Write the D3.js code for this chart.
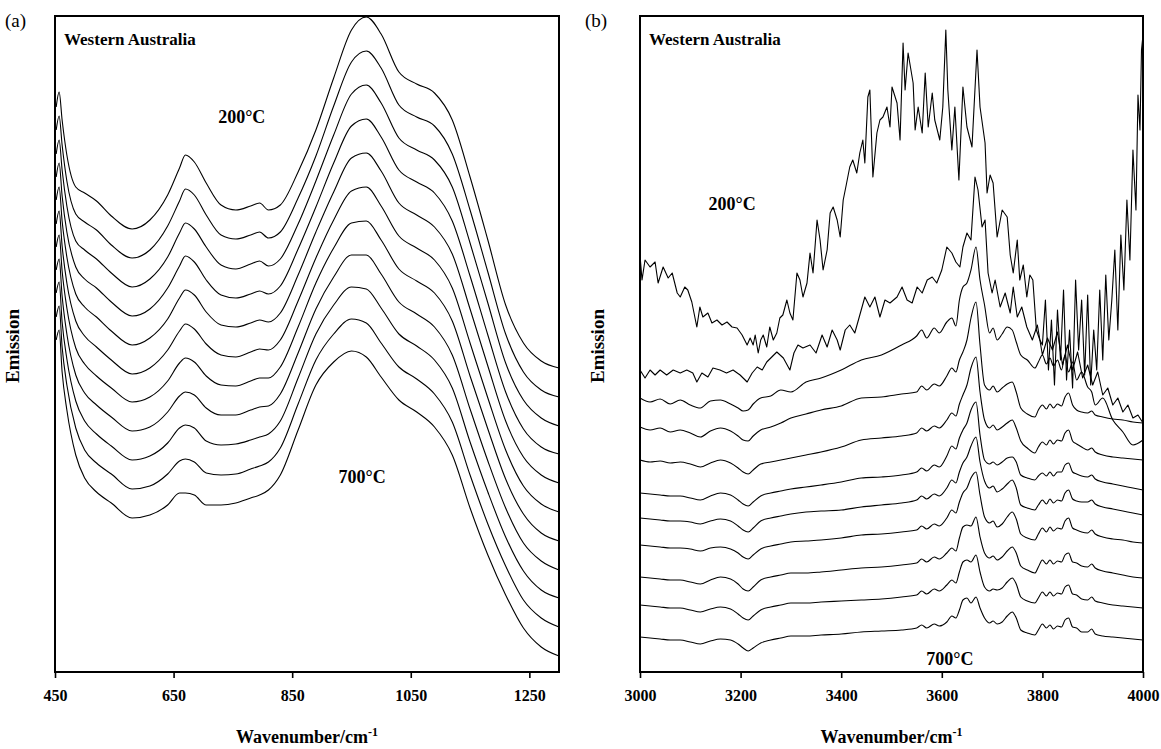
<!DOCTYPE html>
<html>
<head>
<meta charset="utf-8">
<script src="https://cdn.jsdelivr.net/npm/d3@7"></script>
<style>
  body { margin: 0; background: #fff; }
  svg text { font-family: "Liberation Serif", "Times New Roman", serif; fill: #000; }
</style>
</head>
<body>
<svg id="chart" width="1161" height="749"></svg>
<script>
// FTIR emission spectra, Western Australia sample, heated 200 -> 700 C
// values are stacked emission in arbitrary units (traces offset vertically)

// ---- panel (a): 450-1300 cm-1 ----
var waveA = [452, 457, 462, 470, 485, 500, 520, 545, 580, 610, 640, 660, 670, 685, 705, 730, 755, 780, 795, 810,
             830, 860, 890, 920, 950, 975, 1000, 1030, 1060, 1090, 1120, 1150, 1180, 1210, 1240, 1270, 1300];
var a200 = [565, 580, 552, 517, 485, 479, 471, 456, 443, 452, 477, 504, 517, 510, 489, 467, 462, 466, 469, 462, 467, 500, 542, 594, 642, 655, 638, 600, 588, 579, 552, 495, 432, 367, 329, 311, 304];
var a250 = [542, 556, 527, 491, 458, 450, 442, 427, 414, 422, 446, 471, 483, 477, 457, 437, 433, 437, 440, 434, 440, 474, 516, 566, 610, 621, 604, 567, 555, 546, 518, 462, 400, 338, 300, 282, 275];
var a300 = [518, 532, 502, 466, 431, 422, 413, 399, 385, 393, 415, 439, 449, 443, 425, 407, 403, 408, 411, 406, 413, 448, 491, 537, 578, 587, 569, 534, 522, 512, 485, 429, 369, 309, 272, 254, 246];
var a350 = [495, 509, 476, 440, 405, 393, 384, 370, 356, 363, 384, 406, 416, 410, 392, 377, 374, 378, 381, 378, 386, 423, 465, 509, 546, 553, 535, 502, 490, 479, 451, 396, 337, 280, 243, 225, 218];
var a400 = [472, 485, 451, 415, 378, 365, 355, 341, 327, 334, 353, 374, 382, 377, 360, 347, 345, 349, 352, 350, 359, 397, 440, 480, 514, 519, 501, 469, 457, 445, 418, 363, 306, 251, 215, 197, 189];
var a450 = [448, 461, 426, 389, 351, 336, 325, 312, 298, 304, 322, 341, 348, 343, 328, 317, 315, 320, 323, 322, 332, 371, 414, 452, 481, 485, 466, 436, 424, 412, 384, 329, 274, 222, 186, 168, 160];
var a500 = [425, 437, 401, 364, 324, 308, 296, 284, 270, 275, 291, 309, 314, 310, 296, 287, 286, 291, 294, 294, 305, 345, 389, 424, 449, 451, 432, 403, 391, 379, 351, 296, 243, 193, 158, 139, 131];
var a550 = [402, 413, 376, 338, 297, 279, 267, 255, 241, 245, 260, 276, 280, 277, 264, 257, 257, 262, 265, 266, 278, 319, 363, 395, 417, 417, 398, 370, 358, 345, 317, 263, 211, 164, 129, 111, 102];
var a600 = [379, 390, 350, 313, 271, 251, 238, 226, 212, 216, 229, 244, 247, 244, 231, 227, 228, 232, 235, 238, 251, 294, 338, 367, 385, 383, 364, 338, 326, 312, 284, 230, 180, 135, 101, 82, 74];
var a650 = [355, 366, 325, 287, 244, 222, 209, 198, 183, 186, 198, 211, 213, 210, 199, 197, 198, 203, 206, 210, 224, 268, 312, 338, 353, 349, 329, 305, 293, 278, 250, 197, 148, 106, 72, 54, 45];
var a700 = [332, 342, 300, 262, 217, 194, 180, 169, 154, 157, 167, 179, 179, 177, 167, 167, 169, 174, 177, 182, 197, 242, 287, 310, 321, 315, 295, 272, 260, 245, 217, 164, 117, 77, 44, 25, 16];
var ticksA = [450, 650, 850, 1050, 1250];

// ---- panel (b): 3000-4000 cm-1 ----
// the 200 and 250 C traces are very noisy, so they get their own denser grids
var waveB200 = [3000, 3004, 3010, 3020, 3030, 3036, 3046, 3056, 3064, 3074, 3080, 3089, 3095, 3103, 3113, 3119, 3125, 3135, 3143, 3153,
                3163, 3173, 3183, 3193, 3203, 3213, 3219, 3225, 3229, 3235, 3240, 3245, 3252, 3258, 3265, 3272, 3278, 3284, 3292, 3298,
                3304, 3312, 3318, 3324, 3332, 3338, 3344, 3352, 3358, 3364, 3372, 3378, 3384, 3392, 3398, 3404, 3410, 3417, 3423, 3431,
                3437, 3443, 3447, 3453, 3457, 3463, 3471, 3477, 3483, 3491, 3497, 3501, 3511, 3517, 3523, 3527, 3533, 3543, 3547, 3553,
                3561, 3567, 3573, 3581, 3586, 3596, 3602, 3608, 3612, 3620, 3626, 3634, 3642, 3650, 3660, 3670, 3676, 3686, 3690, 3696,
                3702, 3710, 3720, 3730, 3736, 3742, 3750, 3755, 3762, 3769, 3775, 3781, 3788, 3795, 3800, 3806, 3812, 3818, 3824, 3830,
                3836, 3842, 3848, 3854, 3860, 3866, 3872, 3878, 3884, 3890, 3896, 3902, 3908, 3914, 3920, 3926, 3932, 3938, 3944, 3950,
                3956, 3962, 3968, 3974, 3980, 3986, 3990, 3994, 3997, 4000];
var b200 = [417, 392, 412, 405, 410, 389, 405, 394, 399, 379, 375, 385, 382, 370, 345, 365, 355, 359, 349, 352,
            347, 350, 345, 344, 337, 327, 334, 327, 337, 319, 332, 337, 325, 345, 332, 339, 354, 357, 372, 359,
            352, 399, 392, 375, 389, 419, 399, 452, 432, 402, 422, 459, 465, 452, 435, 472, 487, 505, 512, 499,
            519, 532, 509, 575, 582, 495, 539, 552, 555, 565, 545, 585, 569, 532, 629, 582, 619, 589, 542, 565,
            539, 599, 545, 579, 552, 532, 565, 642, 582, 522, 565, 492, 585, 545, 525, 622, 565, 529, 479, 497,
            489, 435, 462, 455, 417, 399, 432, 392, 407, 375, 397, 392, 342, 332, 327, 372, 302, 352, 287, 362,
            312, 382, 292, 342, 284, 392, 322, 372, 297, 377, 287, 342, 302, 382, 312, 397, 332, 372, 422, 342,
            437, 382, 472, 412, 522, 462, 577, 542, 622, 637];
var waveB250 = [3000, 3010, 3020, 3030, 3040, 3053, 3066, 3080, 3093, 3105, 3113, 3123, 3135, 3145, 3159, 3172, 3185, 3199, 3213, 3223,
                3233, 3243, 3252, 3262, 3272, 3285, 3298, 3306, 3314, 3324, 3338, 3350, 3362, 3372, 3382, 3392, 3398, 3408, 3417, 3427,
                3437, 3447, 3457, 3467, 3477, 3487, 3497, 3511, 3521, 3531, 3541, 3551, 3561, 3571, 3581, 3590, 3600, 3610, 3620, 3628,
                3636, 3642, 3650, 3658, 3666, 3672, 3680, 3686, 3692, 3700, 3706, 3716, 3726, 3736, 3742, 3750, 3759, 3769, 3780, 3790,
                3800, 3810, 3820, 3830, 3840, 3850, 3860, 3870, 3880, 3890, 3900, 3910, 3920, 3930, 3940, 3950, 3960, 3970, 3980, 3990, 4000];
var b250 = [302, 294, 302, 297, 302, 297, 302, 299, 302, 299, 290, 299, 295, 304, 302, 299, 302, 297, 290, 299,
            305, 302, 310, 315, 320, 314, 302, 319, 327, 324, 327, 319, 337, 325, 342, 332, 322, 342, 347, 339,
            357, 375, 365, 375, 355, 372, 369, 375, 385, 372, 369, 385, 379, 392, 395, 389, 402, 425, 419, 410,
            405, 425, 439, 432, 495, 482, 445, 452, 399, 379, 392, 365, 379, 359, 385, 355, 365, 345, 332, 347,
            317, 334, 322, 340, 307, 327, 302, 320, 294, 307, 287, 300, 277, 284, 267, 274, 260, 267, 254, 257, 249];
// the smoother 300-700 C traces share one grid
var waveB = [3000, 3020, 3040, 3060, 3080, 3100, 3120, 3140, 3160, 3180, 3195, 3205, 3215, 3225, 3240, 3260, 3280, 3300, 3330, 3360,
             3400, 3440, 3480, 3520, 3550, 3560, 3570, 3585, 3595, 3610, 3620, 3628, 3635, 3642, 3650, 3658, 3668, 3676, 3685, 3695,
             3702, 3710, 3720, 3730, 3740, 3748, 3757, 3770, 3785, 3792, 3800, 3808, 3815, 3822, 3830, 3838, 3845, 3852, 3860, 3868,
             3878, 3890, 3898, 3905, 3920, 3940, 3960, 3980, 4000];
var b300 = [274, 270, 273, 268, 272, 267, 264, 271, 272, 268, 264, 261, 262, 268, 274, 276, 282, 280, 290, 294,
            302, 312, 317, 327, 336, 342, 334, 344, 339, 350, 354, 346, 372, 385, 389, 402, 425, 392, 367, 339,
            344, 332, 338, 345, 342, 330, 317, 312, 304, 310, 317, 308, 314, 306, 312, 302, 317, 300, 310, 292,
            300, 285, 280, 267, 274, 252, 240, 227, 232];
var b350 = [245, 242, 244, 240, 242, 239, 235, 241, 244, 241, 236, 232, 231, 236, 242, 245, 249, 254, 258, 262,
            266, 274, 275, 278, 280, 286, 282, 288, 286, 296, 304, 300, 312, 320, 332, 354, 370, 327, 287, 282,
            286, 280, 284, 288, 290, 280, 264, 258, 255, 262, 267, 263, 268, 264, 268, 266, 275, 279, 267, 262,
            260, 259, 261, 257, 255, 253, 252, 250, 249];
var b400 = [212, 210, 211, 209, 210, 208, 205, 209, 212, 209, 204, 200, 198, 202, 208, 210, 212, 214, 217, 220,
            225, 232, 234, 236, 239, 244, 241, 246, 244, 252, 259, 256, 268, 277, 287, 304, 315, 280, 252, 244,
            247, 242, 245, 249, 252, 244, 231, 224, 219, 225, 230, 227, 232, 228, 232, 231, 239, 242, 231, 228,
            225, 222, 224, 220, 217, 215, 214, 213, 212];
var b450 = [179, 178, 177, 176, 176, 174, 172, 176, 179, 177, 172, 168, 166, 170, 176, 179, 181, 183, 185, 187,
            190, 194, 195, 197, 200, 204, 201, 207, 205, 216, 226, 223, 234, 242, 249, 262, 270, 237, 212, 208,
            210, 207, 210, 214, 215, 210, 197, 194, 192, 196, 199, 196, 200, 196, 200, 200, 207, 209, 200, 198,
            196, 195, 197, 193, 190, 188, 186, 184, 182];
var b500 = [154, 153, 152, 151, 151, 150, 148, 151, 153, 151, 146, 142, 140, 144, 151, 154, 156, 158, 160, 161,
            162, 165, 167, 169, 172, 176, 173, 178, 176, 184, 192, 189, 200, 209, 215, 226, 235, 210, 191, 184,
            186, 180, 183, 188, 192, 184, 167, 164, 162, 167, 172, 168, 173, 169, 172, 171, 179, 182, 173, 171,
            170, 170, 172, 168, 165, 163, 161, 159, 157];
var b550 = [127, 126, 125, 124, 124, 123, 121, 124, 125, 123, 119, 115, 113, 117, 123, 126, 128, 130, 131, 132,
            134, 137, 138, 140, 142, 146, 143, 148, 146, 154, 162, 159, 170, 179, 184, 194, 200, 177, 155, 149,
            151, 145, 148, 155, 160, 153, 138, 134, 132, 138, 144, 140, 145, 141, 144, 143, 151, 154, 144, 142,
            140, 139, 142, 138, 135, 133, 132, 130, 129];
var b600 = [95, 94, 93, 92, 92, 90, 88, 92, 95, 93, 88, 83, 81, 85, 92, 95, 97, 99, 99, 100,
            102, 104, 105, 107, 109, 113, 110, 115, 113, 119, 124, 121, 134, 145, 147, 146, 155, 135, 119, 114,
            116, 112, 115, 121, 125, 119, 106, 102, 99, 105, 112, 108, 112, 108, 111, 110, 117, 119, 110, 109,
            106, 105, 108, 104, 101, 99, 97, 95, 94];
var b650 = [67, 66, 65, 64, 64, 62, 60, 63, 65, 63, 58, 54, 52, 56, 62, 65, 67, 69, 69, 70,
            71, 72, 73, 75, 77, 81, 78, 83, 81, 87, 92, 89, 100, 110, 112, 110, 117, 100, 85, 81,
            83, 82, 84, 90, 94, 88, 75, 71, 69, 74, 80, 76, 80, 76, 79, 78, 85, 87, 78, 77,
            73, 72, 75, 71, 69, 67, 66, 65, 64];
var b700 = [35, 34, 33, 32, 32, 30, 28, 31, 33, 32, 28, 24, 21, 24, 29, 32, 34, 36, 36, 37,
            38, 40, 41, 42, 44, 47, 44, 48, 46, 50, 56, 54, 62, 72, 74, 69, 75, 64, 54, 49,
            51, 48, 50, 56, 60, 54, 42, 39, 37, 42, 48, 44, 47, 43, 46, 45, 52, 54, 45, 44,
            40, 40, 43, 38, 36, 35, 34, 33, 32];
var ticksB = [3000, 3200, 3400, 3600, 3800, 4000];

// drawing params
const frameTop = 16,
    frameBottom = 672,
    emMax = 656; // emission units spanned by the frame

var svg = d3.select("#chart");

function drawPanel(p) {
    var x = d3.scaleLinear().domain(p.domain).range([p.left, p.right]);
    var y = d3.scaleLinear().domain([0, emMax]).range([frameBottom, frameTop]);
    var g = svg.append("g");

    // traces
    p.traces.forEach(function(t) {
        var line = d3.line()
            .x(function(d, i) { return x(t.wave[i]); })
            .y(function(d) { return y(d); })
            .curve(t.curve);
        g.append("path")
            .datum(t.values)
            .attr("d", line)
            .attr("fill", "none")
            .attr("stroke", "#000")
            .attr("stroke-width", 1.1)
            .attr("stroke-linejoin", "round");
    });

    // bottom axis, ticks pointing out
    var axis = d3.axisBottom(x).tickValues(p.ticks).tickSize(6).tickPadding(12).tickFormat(d3.format("d"));
    var ax = g.append("g")
        .attr("transform", "translate(0," + frameBottom + ")")
        .call(axis);
    ax.select(".domain").remove();
    ax.selectAll(".tick line").attr("stroke", "#000").attr("stroke-width", 1.6);
    ax.selectAll(".tick text")
        .attr("font-family", "Liberation Serif, Times New Roman, serif")
        .attr("font-size", 16)
        .attr("font-weight", "bold");

    // frame
    g.append("rect")
        .attr("x", p.left).attr("y", frameTop)
        .attr("width", p.right - p.left).attr("height", frameBottom - frameTop)
        .attr("fill", "none").attr("stroke", "#000").attr("stroke-width", 2);

    // axis titles
    var xt = g.append("text")
        .attr("x", (p.left + p.right) / 2).attr("y", 743)
        .attr("text-anchor", "middle")
        .attr("font-size", 18).attr("font-weight", "bold");
    xt.append("tspan").text("Wavenumber/cm");
    xt.append("tspan").attr("dy", -7).attr("font-size", 12).text("-1");

    g.append("text")
        .attr("transform", "translate(" + (p.left - 36) + "," + 346 + ") rotate(-90)")
        .attr("text-anchor", "middle")
        .attr("font-size", 19).attr("font-weight", "bold")
        .text("Emission");

    // panel letter and annotations
    g.append("text").attr("x", p.tagX).attr("y", 27)
        .attr("font-size", 19).text(p.tag);
    g.append("text").attr("x", p.left + 9).attr("y", 45)
        .attr("font-size", 17).attr("font-weight", "bold")
        .text("Western Australia");
    p.notes.forEach(function(n) {
        g.append("text")
            .attr("x", x(n.w)).attr("y", y(n.v))
            .attr("text-anchor", "middle")
            .attr("font-size", 18).attr("font-weight", "bold")
            .text(n.label);
    });
}

var smooth = d3.curveMonotoneX;

drawPanel({
    tag: "(a)", tagX: 5, left: 55, right: 559, domain: [450, 1300], ticks: ticksA,
    traces: [a200, a250, a300, a350, a400, a450, a500, a550, a600, a650, a700]
        .map(function(v) { return {wave: waveA, values: v, curve: smooth}; }),
    notes: [{label: "200\u00B0C", w: 765, v: 549}, {label: "700\u00B0C", w: 968, v: 189}]
});

drawPanel({
    tag: "(b)", tagX: 585, left: 640, right: 1143, domain: [3000, 4000], ticks: ticksB,
    traces: [{wave: waveB200, values: b200, curve: d3.curveLinear},
             {wave: waveB250, values: b250, curve: d3.curveLinear}]
        .concat([b300, b350, b400, b450, b500, b550, b600, b650, b700]
        .map(function(v) { return {wave: waveB, values: v, curve: smooth}; })),
    notes: [{label: "200\u00B0C", w: 3183, v: 462}, {label: "700\u00B0C", w: 3616, v: 7}]
});
</script>
</body>
</html>
